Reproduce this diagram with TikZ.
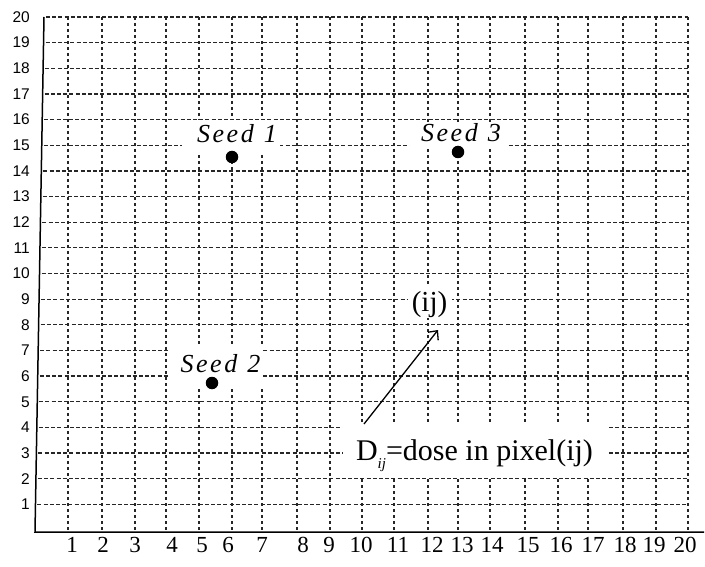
\documentclass[tikz,border=0pt]{standalone}
\usepackage{fontspec}
\setmainfont{Liberation Serif}
\newfontfamily\axisfont{Liberation Sans}
\usetikzlibrary{arrows.meta}
\newcommand\seedword[1]{S\kern2.5pt e\kern2.5pt e\kern2.5pt d\kern10pt #1}
\begin{document}
\begin{tikzpicture}[x=1pt,y=-1pt,
  hgrid/.style={line width=1.25pt, black!85, dash pattern=on 4pt off 2.2pt},
  vgrid/.style={line width=1.35pt, black!85, dash pattern=on 3pt off 3pt},
  axisline/.style={line width=1.5pt, black},
  patch/.style={fill=white, inner sep=0pt},
  seedlbl/.style={font=\fontsize{26}{26}\selectfont\itshape, inner sep=0pt, anchor=base},
  dot/.style={circle, fill=black, minimum size=12.5pt, inner sep=0pt},
  ylbl/.style={anchor=east, font=\axisfont\fontsize{15.5}{15.5}\selectfont, inner sep=0pt},
  xlbl/.style={anchor=base, font=\fontsize{23}{23}\selectfont, inner sep=0pt},
  bigtxt/.style={inner sep=0pt, anchor=base}
]
\useasboundingbox (0,0) rectangle (705,567);

% grid
\foreach \k in {1,...,20}{
  \pgfmathsetmacro\yy{530-25.65*\k}
  \pgfmathsetmacro\xs{35+9*(532-\yy)/515+2}
  \draw[hgrid] (\xs,\yy) -- (688,\yy);
}
\foreach \x in {68,102,135,166,199,232,262,297,330,362,394,428,458,490,525,558,588,623,656,688}{
  \draw[vgrid] (\x,17) -- (\x,532);
}

% white patches behind labels
\node[patch, minimum width=98pt, minimum height=32pt] (p1) at (231,136) {};
\node[patch, minimum width=98pt, minimum height=26pt] (p3) at (459,135) {};
\node[patch, minimum width=95pt, minimum height=41pt] (p2) at (215.5,365.5) {};
\node[patch, minimum width=44pt, minimum height=33pt] (pij) at (430,301) {};
\node[patch, minimum width=265pt, minimum height=52pt] (pd) at (475.5,451) {};

% seed labels and dots
\node[seedlbl] (s1) at (237,143) {\seedword{1}};
\node[seedlbl] (s3) at (461,141.5) {\seedword{3}};
\node[seedlbl] (s2) at (220.5,372) {\seedword{2}};
\node[dot] (d1) at (232,157) {};
\node[dot] (d3) at (458,152) {};
\node[dot] (d2) at (212,383) {};

% pixel label and arrow
\node[bigtxt, font=\fontsize{29}{29}\selectfont] (ij) at (429.5,311) {(ij)};
\node[bigtxt, font=\fontsize{30}{30}\selectfont] (dose) at (474.5,460)
  {D\raisebox{-8pt}{\fontsize{15}{15}\selectfont\itshape ij}=dose in pixel(ij)};
\coordinate (a0) at (364,424);
\coordinate (a1) at (438,330);
\draw[line width=1.3pt, -{Straight Barb[length=7pt,width=13pt]}] (a0) -- (a1);

% axes
\coordinate (o) at (35,532);
\coordinate (ytop) at (44,17);
\coordinate (xend) at (704,532);
\draw[axisline] (ytop) -- (o) -- (xend);

% axis labels
\foreach \k in {1,...,20}{
  \pgfmathsetmacro\yy{530-25.65*\k}
  \node[ylbl] (yl\k) at (30,\yy) {\k};
}
\foreach \x [count=\i] in {72,103,135,172,202,228,262,303,329,361,398,432,462,492,528,561,593,625,654,685}{
  \node[xlbl] (xl\i) at (\x,552) {\i};
}
\end{tikzpicture}
\end{document}
